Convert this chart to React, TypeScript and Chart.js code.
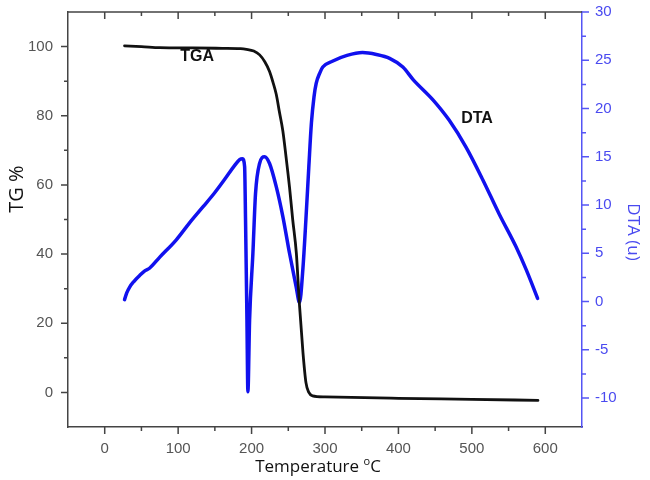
import React, { useEffect, useRef } from "react";
import { Chart, registerables } from "chart.js";

Chart.register(...registerables);

// ---- data ----
const tgaTemp = [27, 50, 75, 120, 160, 185, 193, 203, 211, 218, 224.5, 229, 233.6, 238, 242.6, 247, 251.7, 256, 261, 265, 270, 274, 278, 283, 300, 400, 500, 590];
const tgaValues = [100.2, 100, 99.7, 99.6, 99.5, 99.4, 99.2, 98.7, 97.6, 95.6, 92.8, 89.8, 86.2, 81, 75.6, 68, 59.3, 50, 40.2, 26, 11.5, 2.9, 0, -1, -1.3, -1.7, -2.0, -2.3];

const dtaTemp = [27, 30, 34, 40, 47.6, 55, 61, 75, 97.5, 115, 133.7, 150, 165.6, 176, 183.7, 187.5, 190.5, 191.8, 193.7, 195, 197.3, 201.8, 205.4, 210.9, 217.7, 224.5, 233.6, 242.6, 251.7, 260.8, 265.3, 270, 274, 278, 281.5, 285, 288, 293, 297, 310, 330, 351, 370, 388, 406, 420, 447, 469, 492, 515, 537, 560, 574, 589.5];
const dtaValues = [0.2, 0.9, 1.5, 2.1, 2.7, 3.2, 3.45, 4.6, 6.4, 8.1, 9.8, 11.3, 12.9, 14.0, 14.7, 14.8, 14.0, 8.4, -1.9, -9.35, -1.9, 5.0, 11.2, 14.3, 15.0, 14.3, 11.9, 8.8, 5.0, 1.5, -0.1, 3.5, 8.5, 14, 18.5, 21.2, 22.6, 23.7, 24.3, 24.9, 25.5, 25.8, 25.6, 25.2, 24.3, 23.0, 20.9, 18.8, 16.0, 12.6, 9.1, 5.7, 3.3, 0.33];

const xMajorTicks = [0, 100, 200, 300, 400, 500, 600];
const xMinorTicks = [50, 150, 250, 350, 450, 550];
const tgMajorTicks = [0, 20, 40, 60, 80, 100];
const tgMinorTicks = [10, 30, 50, 70, 90];
const dtaMajorTicks = [-10, -5, 0, 5, 10, 15, 20, 25, 30];
const dtaMinorTicks = [-7.5, -2.5, 2.5, 7.5, 12.5, 17.5, 22.5, 27.5];

const tgaLabel = { text: "TGA", x: 126, y: 97 };
const dtaLabel = { text: "DTA", x: 507, y: 19 };
const xTitleParts = ["Temperature ", "o", "C"];
const yTitle = "TG %";
const y1Title = "DTA (u)";

const BLUE_LINE = "#1111ee";
const BLUE_AXIS = "#5555f5";
const BLUE_TEXT = "#4a4af0";
const GRAY_AXIS = "#444444";

const framePlugin = {
  id: "frame",
  afterDraw(chart: any) {
    const { ctx, chartArea: a, scales } = chart;
    const xs = scales.x, ys = scales.y, y1 = scales.y1;
    ctx.save();
    ctx.lineWidth = 1.5;
    ctx.strokeStyle = GRAY_AXIS;
    ctx.beginPath();
    ctx.moveTo(a.left, a.top);
    ctx.lineTo(a.right, a.top);
    const seg = (x1: number, yA: number, x2: number, yB: number) => {
      ctx.moveTo(x1, yA);
      ctx.lineTo(x2, yB);
    };
    xMajorTicks.forEach((v) => {
      const p = xs.getPixelForValue(v);
      seg(p, a.bottom, p, a.bottom + 7);
      seg(p, a.top, p, a.top + 7);
    });
    xMinorTicks.forEach((v) => {
      const p = xs.getPixelForValue(v);
      seg(p, a.bottom, p, a.bottom + 4);
      seg(p, a.top, p, a.top + 4);
    });
    tgMajorTicks.forEach((v) => {
      const p = ys.getPixelForValue(v);
      seg(a.left - 7, p, a.left, p);
    });
    tgMinorTicks.forEach((v) => {
      const p = ys.getPixelForValue(v);
      seg(a.left - 4, p, a.left, p);
    });
    ctx.stroke();
    ctx.strokeStyle = BLUE_AXIS;
    ctx.beginPath();
    dtaMajorTicks.forEach((v) => {
      const p = y1.getPixelForValue(v);
      seg(a.right, p, a.right + 7, p);
    });
    dtaMinorTicks.forEach((v) => {
      const p = y1.getPixelForValue(v);
      seg(a.right, p, a.right + 4, p);
    });
    ctx.stroke();

    // curve annotations
    ctx.fillStyle = "#111";
    ctx.font = 'bold 16px "Liberation Sans"';
    ctx.textAlign = "center";
    ctx.textBaseline = "middle";
    ctx.fillText(tgaLabel.text, xs.getPixelForValue(tgaLabel.x), ys.getPixelForValue(tgaLabel.y));
    ctx.fillText(dtaLabel.text, xs.getPixelForValue(dtaLabel.x), y1.getPixelForValue(dtaLabel.y));

    // x axis title with superscript "o"
    const mainFont = '17px "Open Sans"';
    const supFont = '11px "Open Sans"';
    ctx.textAlign = "left";
    ctx.textBaseline = "alphabetic";
    ctx.font = mainFont;
    const w1 = ctx.measureText(xTitleParts[0]).width;
    const w3 = ctx.measureText(xTitleParts[2]).width;
    ctx.font = supFont;
    const w2 = ctx.measureText(xTitleParts[1]).width;
    let tx = 318 - (w1 + w2 + w3) / 2;
    const base = 472;
    ctx.font = mainFont;
    ctx.fillText(xTitleParts[0], tx, base);
    tx += w1;
    ctx.font = supFont;
    ctx.fillText(xTitleParts[1], tx, base - 7);
    tx += w2;
    ctx.font = mainFont;
    ctx.fillText(xTitleParts[2], tx, base);

    ctx.textAlign = "center";
    ctx.textBaseline = "middle";
    ctx.save();
    ctx.translate(17, 189);
    ctx.rotate(-Math.PI / 2);
    ctx.font = '20px "Open Sans"';
    ctx.fillText(yTitle, 0, 0);
    ctx.restore();

    ctx.save();
    ctx.translate(633, 232);
    ctx.rotate(Math.PI / 2);
    ctx.font = '17px "Open Sans"';
    ctx.fillStyle = BLUE_TEXT;
    ctx.fillText(y1Title, 0, 0);
    ctx.restore();

    ctx.restore();
  },
};

export default function App() {
  const ref = useRef<HTMLCanvasElement | null>(null);

  useEffect(() => {
    if (!ref.current) return;
    const tickFont = { family: '"Liberation Sans", Arial, sans-serif', size: 15 };
    const noPad = (s: any) => {
      s.paddingTop = 0;
      s.paddingBottom = 0;
      s.paddingLeft = 0;
      s.paddingRight = 0;
    };
    const chart = new Chart(ref.current, {
      type: "line",
      data: {
        datasets: [
          {
            label: "TGA",
            data: tgaTemp.map((t, i) => ({ x: t, y: tgaValues[i] })),
            yAxisID: "y",
            borderColor: "#111111",
            borderWidth: 2.8,
            pointRadius: 0,
            cubicInterpolationMode: "monotone",
            borderCapStyle: "round",
            borderJoinStyle: "round",
            fill: false,
          },
          {
            label: "DTA",
            data: dtaTemp.map((t, i) => ({ x: t, y: dtaValues[i] })),
            yAxisID: "y1",
            borderColor: BLUE_LINE,
            borderWidth: 3.5,
            pointRadius: 0,
            cubicInterpolationMode: "monotone",
            borderCapStyle: "round",
            borderJoinStyle: "round",
            fill: false,
          },
        ],
      },
      options: {
        animation: false,
        responsive: false,
        layout: { padding: { top: 12, left: 0, right: 0, bottom: 0 } },
        plugins: { legend: { display: false }, tooltip: { enabled: false } },
        scales: {
          x: {
            type: "linear",
            position: "bottom",
            min: -50,
            max: 650,
            afterBuildTicks: (s: any) => {
              s.ticks = xMajorTicks.map((v) => ({ value: v }));
            },
            afterFit: (s: any) => {
              s.height = 53;
              noPad(s);
            },
            grid: { display: false, drawTicks: false, tickLength: 0 },
            border: { display: true, color: GRAY_AXIS, width: 1.5 },
            ticks: { color: "#555", font: tickFont, padding: 13, maxRotation: 0, autoSkip: false },
          },
          y: {
            type: "linear",
            position: "left",
            min: -10,
            max: 110,
            afterBuildTicks: (s: any) => {
              s.ticks = tgMajorTicks.map((v) => ({ value: v }));
            },
            afterFit: (s: any) => {
              s.width = 68;
              noPad(s);
            },
            grid: { display: false, drawTicks: false, tickLength: 0 },
            border: { display: true, color: GRAY_AXIS, width: 1.5 },
            ticks: { color: "#555", font: tickFont, padding: 15, autoSkip: false },
          },
          y1: {
            type: "linear",
            position: "right",
            min: -13,
            max: 30,
            afterBuildTicks: (s: any) => {
              s.ticks = dtaMajorTicks.map((v) => ({ value: v }));
            },
            afterFit: (s: any) => {
              s.width = 68;
              noPad(s);
            },
            grid: { display: false, drawTicks: false, tickLength: 0 },
            border: { display: true, color: BLUE_AXIS, width: 1.5 },
            ticks: { color: BLUE_TEXT, font: tickFont, padding: 13, autoSkip: false },
          },
        },
      },
      plugins: [framePlugin],
    } as any);
    return () => chart.destroy();
  }, []);

  return (
    <div style={{ position: "absolute", left: 0, top: 0, width: 650, height: 480, background: "#fff" }}>
      <canvas ref={ref} width={650} height={480} style={{ display: "block" }} />
    </div>
  );
}
